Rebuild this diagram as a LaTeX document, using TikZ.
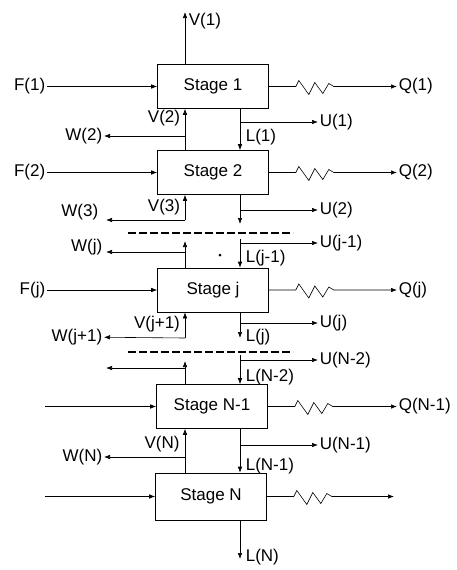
\documentclass[tikz,border=0pt]{standalone}
\usepackage{fontspec}
\setmainfont{Liberation Sans}
\usetikzlibrary{arrows.meta}

\begin{document}
\begin{tikzpicture}[x=1pt,y=-1pt,>={Latex[length=6pt,width=4.5pt]},line width=0.6pt,
  font=\fontsize{17}{20}\selectfont,
  stage/.style={draw,minimum width=111pt,minimum height=44pt},
  lbl/.style={inner sep=1.5pt},
  cut/.style={line width=1.3pt,dash pattern=on 8pt off 3pt}]
  \useasboundingbox (0,0) rectangle (457,570);

  % Stufen
  \node[stage] (s1)  at (213,86.5)  {Stage 1};
  \node[stage] (s2)  at (213,172.5) {Stage 2};
  \node[stage] (sj)  at (213,290)   {Stage j};
  \node[stage] (sn1) at (212,406.5) {Stage N-1};
  \node[stage,minimum height=47pt] (sn) at (211,496.5) {Stage N};

  % Hilfspunkte fuer V- und L-Leitungen
  \coordinate (vx) at (185,0);
  \coordinate (lx) at (240,0);

  % Zulauf F
  \node[lbl,anchor=east] (f1) at (47,86.5)  {F(1)};
  \node[lbl,anchor=east] (f2) at (47,172.5) {F(2)};
  \node[lbl,anchor=east] (fj) at (47,290)   {F(j)};
  \coordinate (fn1) at (45,406.5);
  \coordinate (fn)  at (45,496.5);
  \draw[->] (f1) -- (s1);
  \draw[->] (f2) -- (s2);
  \draw[->] (fj) -- (sj);
  \draw[->] (fn1) -- (sn1);
  \draw[->] (fn) -- (sn);

  % Waerme Q
  \node[lbl,anchor=west] (q1)  at (397,86.5)  {Q(1)};
  \node[lbl,anchor=west] (q2)  at (397,172.5) {Q(2)};
  \node[lbl,anchor=west] (qj)  at (397,290)   {Q(j)};
  \node[lbl,anchor=west] (qn1) at (397,406.5) {Q(N-1)};
  \coordinate (qn) at (394,496.5);
  \foreach \s/\q in {s1/q1,s2/q2,sj/qj,sn1/qn1,sn/qn}
    \draw[->] (\s.east) -- ++(27,0) -- ++(3,-6) -- ++(10,14) -- ++(6,-12)
      -- ++(8,11) -- ++(6,-10) -- ++(5,3) -- (\q);

  % Dampf V und Abzug W
  \coordinate (v1t) at (185,12);
  \node[lbl,anchor=west] (v1) at (187,21) {V(1)};
  \draw[->] (s1.north -| vx) -- (v1t);

  \draw[->] (s2.north -| vx) -- (s1.south -| vx);
  \node[lbl] (v2) at (164,118) {V(2)};
  \coordinate (w2a) at (185,136);
  \node[lbl,anchor=east] (w2) at (104,136) {W(2)};
  \draw[->] (w2a) -- (w2);

  \coordinate (w3a) at (185,220);
  \coordinate (w3t) at (106,220);
  \draw[->] (w3a) -- (s2.south -| vx);
  \node[lbl] (v3) at (164,207) {V(3)};
  \node[lbl,anchor=east] (w3) at (100,212) {W(3)};
  \draw[->] (w3a) -- (w3t);

  \coordinate (vjt) at (185,241);
  \coordinate (wja) at (185,252);
  \coordinate (wjt) at (106,252);
  \draw[->] (sj.north -| vx) -- (vjt);
  \node[lbl,anchor=east] (wj) at (104,247) {W(j)};
  \draw[->] (wja) -- (wjt);

  \coordinate (wj1a) at (185,338);
  \draw[->] (wj1a) -- (sj.south -| vx);
  \node[lbl] (vj1) at (157,324) {V(j+1)};
  \node[lbl,anchor=east] (wj1) at (104,337) {W(j+1)};
  \draw[->] (wj1a) -- (wj1);

  \coordinate (vn1t) at (185,361);
  \coordinate (wn1a) at (185,368);
  \coordinate (wn1t) at (106,368);
  \draw[->] (sn1.north -| vx) -- (vn1t);
  \draw[->] (wn1a) -- (wn1t);

  \draw[->] (sn.north -| vx) -- (sn1.south -| vx);
  \node[lbl] (vn) at (162,444) {V(N)};
  \coordinate (wna) at (185,457);
  \node[lbl,anchor=east] (wn) at (104,457) {W(N)};
  \draw[->] (wna) -- (wn);

  % Fluessigkeit L und Abzug U
  \draw[->] (s1.south -| lx) -- (s2.north -| lx);
  \node[lbl,anchor=west] (l1) at (244,137) {L(1)};
  \coordinate (u1a) at (240,122);
  \node[lbl,anchor=west] (u1) at (318,122) {U(1)};
  \draw[->] (u1a) -- (u1);

  \coordinate (l2t) at (240,224);
  \draw[->] (s2.south -| lx) -- (l2t);
  \coordinate (u2a) at (240,210);
  \node[lbl,anchor=west] (u2) at (318,210) {U(2)};
  \draw[->] (u2a) -- (u2);

  \coordinate (ljs) at (240,239);
  \draw[->] (ljs) -- (sj.north -| lx);
  \node[lbl,anchor=west] (lj0) at (244,258) {L(j-1)};
  \coordinate (uj0a) at (240,243);
  \node[lbl,anchor=west] (uj0) at (318,243) {U(j-1)};
  \draw[->] (uj0a) -- (uj0);

  \coordinate (ljt) at (240,338);
  \draw[->] (sj.south -| lx) -- (ljt);
  \node[lbl,anchor=west] (lj) at (244,337) {L(j)};
  \coordinate (uja) at (240,323);
  \node[lbl,anchor=west] (uj) at (318,323) {U(j)};
  \draw[->] (uja) -- (uj);

  \coordinate (ln2s) at (240,355);
  \draw[->] (ln2s) -- (sn1.north -| lx);
  \node[lbl,anchor=west] (ln2) at (244,377) {L(N-2)};
  \coordinate (un2a) at (240,360);
  \node[lbl,anchor=west] (un2) at (318,360) {U(N-2)};
  \draw[->] (un2a) -- (un2);

  \draw[->] (sn1.south -| lx) -- (sn.north -| lx);
  \node[lbl,anchor=west] (ln1) at (244,466) {L(N-1)};
  \coordinate (un1a) at (240,445);
  \node[lbl,anchor=west] (un1) at (318,445) {U(N-1)};
  \draw[->] (un1a) -- (un1);

  \coordinate (lnt) at (240,559);
  \draw[->] (sn.south -| lx) -- (lnt);
  \node[lbl,anchor=west] (ln) at (244,557) {L(N)};

  % Unterbrechungen
  \draw[cut] (128,233) -- (293,233);
  \draw[cut] (128,352) -- (293,352);
  \fill (220,255) circle (1.5pt);
\end{tikzpicture}
\end{document}
